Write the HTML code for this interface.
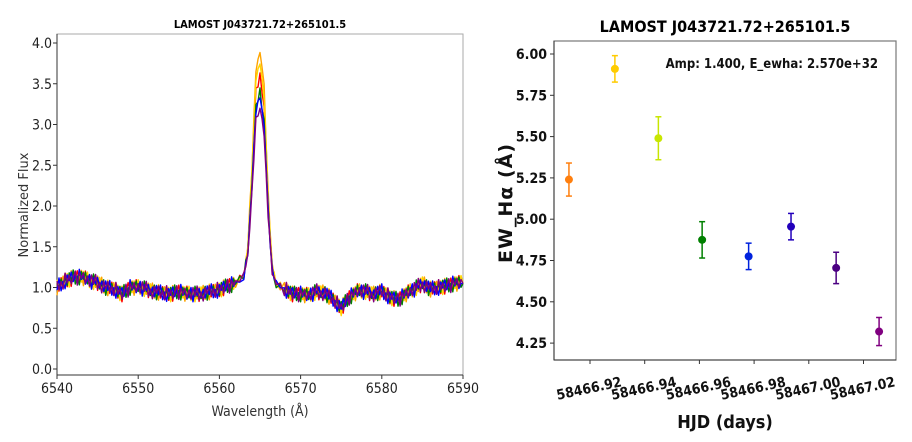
<!DOCTYPE html>
<html><head><meta charset="utf-8"><style>
html,body{margin:0;padding:0;background:#fff;}
svg{display:block;font-family:"DejaVu Sans","Liberation Sans",sans-serif;}
.cn{font-family:"DejaVu Sans Condensed","DejaVu Sans","Liberation Sans",sans-serif;font-stretch:condensed;}
</style></head><body>
<svg id="chart" width="912" height="442" viewBox="0 0 912 442">
<g id="left"></g>
<g id="right"></g>
</svg>
<script>
// ---- Left panel data ----
const waveGrid = [6540,6541,6542,6543,6544,6545,6546,6547,6548,6549,6550,6551,6552,6553,6554,6555,6556,6557,6558,6559,6560,6561,6562,6563,6563.5,6564,6564.5,6565,6565.5,6566,6566.5,6567,6568,6569,6570,6571,6572,6573,6574,6575,6576,6577,6578,6579,6580,6581,6582,6583,6584,6585,6586,6587,6588,6589,6590];
const continuum = [1.0,1.08,1.12,1.13,1.08,1.06,1.0,0.98,0.92,1.0,1.0,0.98,0.95,0.93,0.92,0.95,0.92,0.92,0.93,0.95,0.97,1.02,1.05,1.1,1.15,1.2,1.15,1.1,1.08,1.05,1.03,1.0,0.98,0.92,0.92,0.9,0.95,0.93,0.85,0.75,0.88,0.95,0.95,0.92,0.95,0.88,0.85,0.92,0.98,1.05,0.98,1.0,1.02,1.05,1.05];
const lineProfile = [0,0,0,0,0,0,0,0,0,0,0,0,0,0,0,0,0,0,0,0,0,0,0,0.02,0.12,0.45,0.9,1.0,0.85,0.4,0.08,0.02,0,0,0,0,0,0,0,0,0,0,0,0,0,0,0,0,0,0,0,0,0,0,0];
const seriesNames = ['red','orange','yellow','green','blue','purple'];
const seriesColors = ['#ff0000','#ffa500','#ffd700','#008000','#0000ff','#800080'];
const seriesPeaks = [3.6,3.9,3.75,3.4,3.35,3.2];
const jitter = [0.03,-0.04,0.05,-0.02,0.06,-0.05,0.01,-0.06,0.04,-0.01,0.05,-0.03,0.02,-0.05,0.06,-0.02,0.03,-0.04,0.0,0.05,-0.06,0.03,-0.01,0.04,-0.03];
const leftXTicks = [6540,6550,6560,6570,6580,6590];
const leftYTicks = [0.0,0.5,1.0,1.5,2.0,2.5,3.0,3.5,4.0];

// ---- Right panel data ----
const hjd = [58466.9123,58466.9291,58466.9450,58466.9610,58466.9780,58466.9935,58467.0100,58467.0257];
const ew = [5.24,5.91,5.49,4.875,4.775,4.955,4.705,4.32];
const ewErr = [0.1,0.08,0.13,0.11,0.08,0.08,0.095,0.085];
const pointColors = ['#ff7f0e','#ffcc00','#c8e600','#008000','#0022dd','#2200bb','#4b0082','#800080'];
const rightXTicks = [58466.92,58466.94,58466.96,58466.98,58467.00,58467.02];
const rightYTicks = [4.25,4.50,4.75,5.00,5.25,5.50,5.75,6.00];

const NS='http://www.w3.org/2000/svg';
function mk(parent,tag,attrs,text){const e=document.createElementNS(NS,tag);for(const k in attrs)e.setAttribute(k,attrs[k]);if(text!==undefined)e.textContent=text;parent.appendChild(e);return e;}

// Left axes
const L={x0:57,x1:463,y0:34,y1:375};
const lx=v=>L.x0+(v-6540)/50*(L.x1-L.x0);
const ly=v=>369-v*81.5;
const left=document.getElementById('left');
let t=mk(left,'text',{x:260,y:28,'text-anchor':'middle','font-size':11,'font-weight':'bold',fill:'#000',class:'cn'},'LAMOST J043721.72+265101.5');


let fr=mk(left,'rect',{x:L.x0,y:L.y0,width:L.x1-L.x0,height:L.y1-L.y0,fill:'none',stroke:'#aaa','stroke-width':1});


mk(left,'line',{x1:L.x0,y1:L.y0,x2:L.x0,y2:L.y1,stroke:'#333'});
mk(left,'line',{x1:L.x0,y1:L.y1,x2:L.x1,y2:L.y1,stroke:'#333'});
leftXTicks.forEach(v=>{
  mk(left,'line',{x1:lx(v),y1:L.y1,x2:lx(v),y2:L.y1+4,stroke:'#333'});
  const e=mk(left,'text',{x:lx(v),y:L.y1+18,'text-anchor':'middle','font-size':14,fill:'#222',class:'cn'},String(v));
  
  
});
leftYTicks.forEach(v=>{
  mk(left,'line',{x1:L.x0-4,y1:ly(v),x2:L.x0,y2:ly(v),stroke:'#333'});
  const e=mk(left,'text',{x:L.x0-5,y:ly(v)+5,'text-anchor':'end','font-size':14,fill:'#222',class:'cn'},v.toFixed(1));
  
  
});
t=mk(left,'text',{x:260,y:416,'text-anchor':'middle','font-size':14,fill:'#333',class:'cn'},'Wavelength (Å)');


t=mk(left,'text',{x:0,y:0,transform:'translate(28,205) rotate(-90)','text-anchor':'middle','font-size':13,fill:'#333'},'Normalized Flux');


seriesNames.forEach((nm,si)=>{
  const pts=[];
  for(let i=0;i<waveGrid.length-1;i++){
    const near=(lineProfile[i]>0||lineProfile[i+1]>0);
    const sub=near?2:4;
    for(let k=0;k<sub;k++){
      const f=k/sub;
      const w=waveGrid[i]+(waveGrid[i+1]-waveGrid[i])*f;
      const c=continuum[i]+(continuum[i+1]-continuum[i])*f;
      const p=lineProfile[i]+(lineProfile[i+1]-lineProfile[i])*f;
      const jv=jitter[(i*4+k+si*7)%jitter.length]*(near?0.8:1.6);
      const flux=c+p*(seriesPeaks[si]-1.1)+jv;
      pts.push(lx(w).toFixed(1)+','+ly(flux).toFixed(1));
    }
  }
  const last=waveGrid.length-1;
  pts.push(lx(waveGrid[last]).toFixed(1)+','+ly(continuum[last]).toFixed(1));
  const pl=mk(left,'polyline',{points:pts.join(' '),fill:'none',stroke:seriesColors[si],'stroke-width':1.4,'stroke-linejoin':'round'});
  
  
});

// Right axes
const R={x0:554,x1:896,y0:41,y1:360};
const rx=v=>590+(v-58466.92)/0.02*54.7;
const ry=v=>54+(6.0-v)/0.25*41.3;
const right=document.getElementById('right');
t=mk(right,'text',{x:725,y:32,'text-anchor':'middle','font-size':16,'font-weight':'bold',fill:'#000',class:'cn'},'LAMOST J043721.72+265101.5');


fr=mk(right,'rect',{x:R.x0,y:R.y0,width:R.x1-R.x0,height:R.y1-R.y0,fill:'none',stroke:'#777','stroke-width':1.2});


mk(right,'line',{x1:R.x0,y1:R.y0,x2:R.x0,y2:R.y1,stroke:'#333'});
mk(right,'line',{x1:R.x0,y1:R.y1,x2:R.x1,y2:R.y1,stroke:'#333'});
rightYTicks.forEach(v=>{
  mk(right,'line',{x1:R.x0-4,y1:ry(v),x2:R.x0,y2:ry(v),stroke:'#333'});
  const e=mk(right,'text',{x:R.x0-7,y:ry(v)+5,'text-anchor':'end','font-size':14,'font-weight':'bold',fill:'#111',class:'cn'},v.toFixed(2));
  
  
});
rightXTicks.forEach(v=>{
  mk(right,'line',{x1:rx(v),y1:R.y1,x2:rx(v),y2:R.y1+4,stroke:'#333'});
  const e=mk(right,'text',{x:0,y:0,transform:'translate('+rx(v)+',393) rotate(-12)','text-anchor':'middle','font-size':14,'font-weight':'bold',fill:'#111',class:'cn'},v.toFixed(2));
  
  
});
t=mk(right,'text',{x:725,y:428,'text-anchor':'middle','font-size':18,'font-weight':'bold',fill:'#111',class:'cn'},'HJD (days)');


t=mk(right,'text',{x:0,y:0,transform:'translate(512,203) rotate(-90)','text-anchor':'middle','font-size':19,'font-weight':'bold',fill:'#111','letter-spacing':'1'},'EW_Hα (Å)');


t=mk(right,'text',{x:878,y:68,'text-anchor':'end','font-size':13,'font-weight':'bold',fill:'#111',class:'cn'},'Amp: 1.400, E_ewha: 2.570e+32');


hjd.forEach((h,i)=>{
  const g=mk(right,'g',{});
  
  
  const x=rx(h),c=pointColors[i];
  mk(g,'line',{x1:x,y1:ry(ew[i]-ewErr[i]),x2:x,y2:ry(ew[i]+ewErr[i]),stroke:c,'stroke-width':1.5});
  mk(g,'line',{x1:x-3,y1:ry(ew[i]-ewErr[i]),x2:x+3,y2:ry(ew[i]-ewErr[i]),stroke:c,'stroke-width':1.5});
  mk(g,'line',{x1:x-3,y1:ry(ew[i]+ewErr[i]),x2:x+3,y2:ry(ew[i]+ewErr[i]),stroke:c,'stroke-width':1.5});
  mk(g,'circle',{cx:x,cy:ry(ew[i]),r:4,fill:c});
});
</script>
</body></html>
